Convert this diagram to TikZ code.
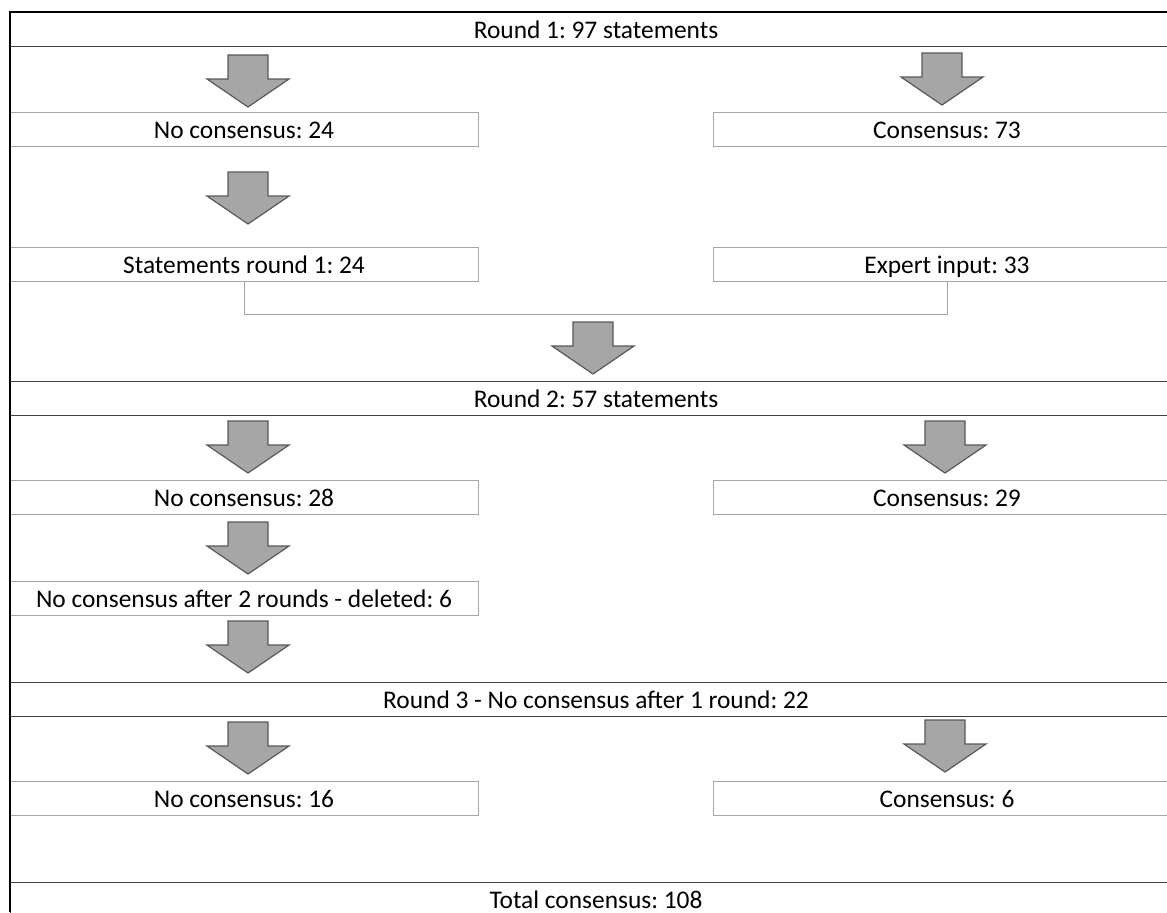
\documentclass[tikz,border=0pt]{standalone}
\usepackage{fontspec}
\setmainfont{Carlito}
\frenchspacing
\tikzset{
  box/.style={draw=gray!70, minimum width=234pt, minimum height=17pt, inner sep=0pt, text height=10pt, text depth=1pt, font=\fontsize{12.7}{14}\selectfont},
  band/.style={draw=black!75, minimum width=586pt, minimum height=17pt, inner sep=0pt, text height=10pt, text depth=1pt, font=\fontsize{12.7}{14}\selectfont},
  arrowfill/.style={draw=black!65, fill=gray!70, line width=0.6pt},
  downarrow/.pic={\draw[arrowfill] (-20,0) -- (20,0) -- (20,24) -- (41,24) -- (0,52) -- (-41,24) -- (-20,24) -- cycle;}
}
\begin{document}
\begin{tikzpicture}[x=0.5pt,y=-0.5pt]
  \useasboundingbox (0,0) rectangle (1167,912);
  % Runde 1
  \node[band] (r1) at (596,29) {Round 1: 97 statements};
  \node[box] (nc1) at (244,129) {No consensus: 24};
  \node[box] (c1) at (947,129) {Consensus: 73};
  \node[box] (st1) at (244,264) {Statements round 1: 24};
  \node[box] (ex1) at (947,264) {Expert input: 33};
  \draw[gray!70] (st1.south) -- ++(0,33) -| (ex1.south); %zusammen
  % Runde 2
  \node[band] (r2) at (596,398) {Round 2: 57 statements};
  \node[box] (nc2) at (244,497) {No consensus: 28};
  \node[box] (c2) at (947,497) {Consensus: 29};
  \node[box] (del2) at (244,598) {No consensus after 2 rounds - deleted: 6};
  % Runde 3
  \node[band] (r3) at (596,699) {Round 3 - No consensus after 1 round: 22};
  \node[box] (nc3) at (244,798) {No consensus: 16};
  \node[box] (c3) at (947,798) {Consensus: 6};
  \node[band] (tot) at (596,899) {Total consensus: 108};
  % Pfeile
  \pic at (248,55) {downarrow};
  \pic at (942,53) {downarrow};
  \pic at (248,172) {downarrow};
  \pic at (593,322) {downarrow};
  \pic at (248,421) {downarrow};
  \pic at (945,421) {downarrow};
  \pic at (248,522) {downarrow};
  \pic at (248,621) {downarrow};
  \pic at (248,722) {downarrow};
  \pic at (945,720) {downarrow};
  \draw[line width=1.2pt] (10,912) -- (10,12) -- (1190,12); %Rahmen
\end{tikzpicture}
\end{document}
